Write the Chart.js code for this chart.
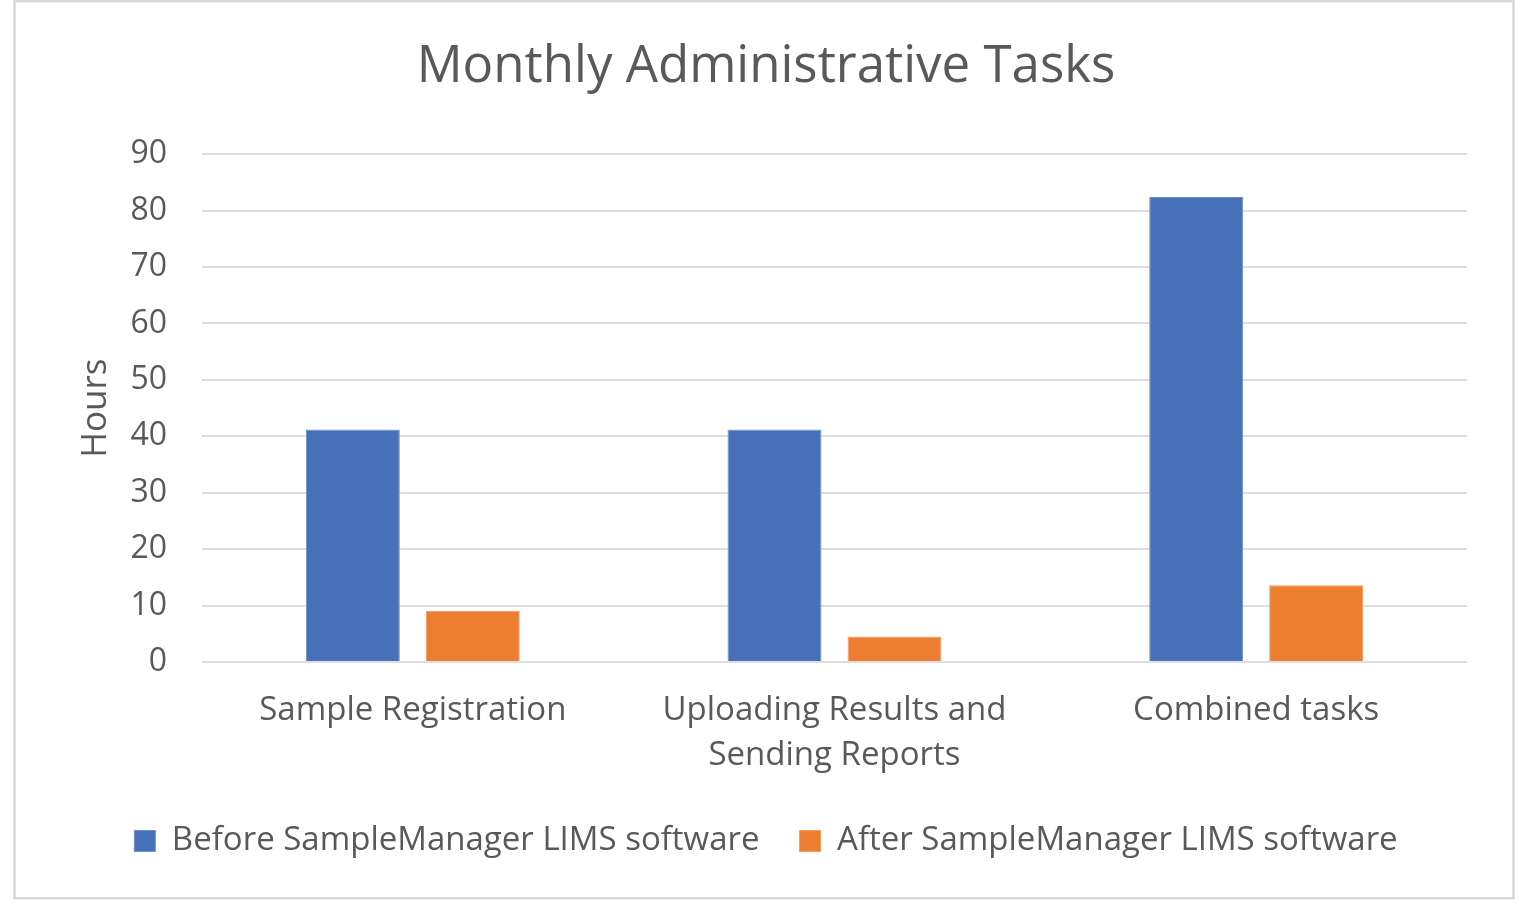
<!DOCTYPE html>
<html>
<head>
<meta charset="utf-8">
<script src="https://cdn.jsdelivr.net/npm/chart.js@4"></script>
<style>
html,body{margin:0;padding:0;background:#fff;}
#wrap{position:absolute;left:0;top:0;width:1532px;height:908px;}
</style>
</head>
<body>
<div id="wrap"><canvas id="c" width="1532" height="908"></canvas></div>
<script>
const categories = [["Sample Registration"], ["Uploading Results and", "Sending Reports"], ["Combined tasks"]];
const beforeValues = [41.2, 41.2, 82.4];
const afterValues = [9.1, 4.5, 13.6];
const seriesNames = ["Before SampleManager LIMS software", "After SampleManager LIMS software"];
const chartTitle = "Monthly Administrative Tasks";
const yAxisTitle = "Hours";

const FONT = "'Open Sans', 'Noto Sans', sans-serif";
const TXT = "#595959";

const borderPlugin = {
  id: 'outerBorder',
  beforeDraw(chart) {
    const ctx = chart.ctx;
    ctx.save();
    ctx.fillStyle = '#ffffff';
    ctx.fillRect(0, 0, chart.width, chart.height);
    ctx.strokeStyle = '#d9d9d9';
    ctx.lineWidth = 2.5;
    ctx.strokeRect(14.5, 1.2, 1499, 897);
    ctx.restore();
  }
};

new Chart(document.getElementById('c'), {
  type: 'bar',
  data: {
    labels: categories,
    datasets: [
      { label: seriesNames[0], data: beforeValues, backgroundColor: '#4671B8', borderColor: '#6a8fd0', borderWidth: 1,
        categoryPercentage: 0.569, barPercentage: 0.783 },
      { label: seriesNames[1], data: afterValues, backgroundColor: '#EC7D31', borderColor: '#f19a5e', borderWidth: 1,
        categoryPercentage: 0.569, barPercentage: 0.783 }
    ]
  },
  plugins: [borderPlugin],
  options: {
    responsive: false,
    animation: false,
    devicePixelRatio: 1,
    layout: { padding: { left: 16, right: 16, top: 0, bottom: 40.5 } },
    plugins: {
      tooltip: { enabled: false },
      title: {
        display: true, text: chartTitle, color: TXT,
        font: { family: FONT, size: 51, weight: 'normal' },
        padding: { top: 37, bottom: 56 }
      },
      legend: {
        position: 'bottom',
        labels: {
          color: TXT, font: { family: FONT, size: 33 },
          boxWidth: 21, boxHeight: 21, padding: 40
        }
      }
    },
    scales: {
      x: {
        grid: { display: false, drawTicks: false },
        border: { display: false },
        ticks: { color: TXT, font: { family: FONT, size: 33, lineHeight: 1.364 }, padding: 26, maxRotation: 0, autoSkip: false },
        afterFit(s) { s.height = 122.5; }
      },
      y: {
        min: 0, max: 90,
        grid: { color: '#dedede', lineWidth: 2, drawTicks: false },
        border: { display: false },
        ticks: { stepSize: 10, color: TXT, font: { family: FONT, size: 32 }, padding: 35 },
        title: { display: true, text: yAxisTitle, color: TXT, font: { family: FONT, size: 35 }, padding: { top: 59, bottom: 0 } },
        afterFit(s) { s.width = 186; }
      },
      yRight: {
        position: 'right', display: true,
        grid: { display: false, drawTicks: false },
        border: { display: false },
        ticks: { display: false },
        afterFit(s) { s.width = 49; }
      }
    }
  }
});
</script>
</body>
</html>
